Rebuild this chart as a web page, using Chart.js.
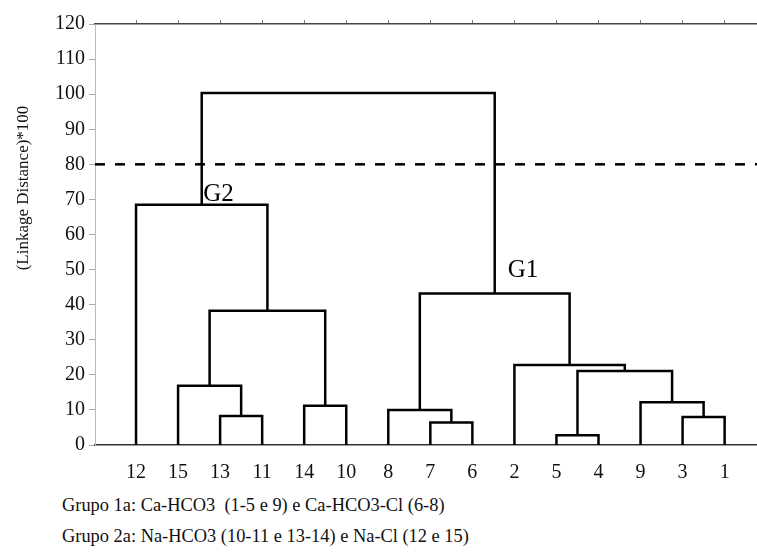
<!DOCTYPE html>
<html>
<head>
<meta charset="utf-8">
<script src="https://cdn.jsdelivr.net/npm/chart.js@4.4.0/dist/chart.umd.min.js"></script>
<style>
  html, body { margin: 0; padding: 0; background: #fff; }
  #wrap { position: relative; width: 757px; height: 559px; overflow: hidden; }
  #box { position: absolute; left: 0; top: 0; width: 757px; height: 490px; }
  .nota { position: absolute; left: 62px; font-size: 18.4px; font-family: "Liberation Serif", "Times New Roman", Tinos, "DejaVu Serif", "Noto Serif", serif; color: #111; white-space: pre; }
</style>
</head>
<body>
<div id="wrap">
  <div id="box"><canvas id="myChart"></canvas></div>
  <div class="nota" style="top:495px">Grupo 1a: Ca-HCO3  (1-5 e 9) e Ca-HCO3-Cl (6-8)</div>
  <div class="nota" style="top:526px">Grupo 2a: Na-HCO3 (10-11 e 13-14) e Na-Cl (12 e 15)</div>
</div>
<script>
// folhas do dendrograma, na ordem do eixo x
const leafLabels = ['12', '15', '13', '11', '14', '10', '8', '7', '6', '2', '5', '4', '9', '3', '1'];

// uniões: nós 0-14 = folhas, 15+ = grupos formados em ordem
const mergeLeft   = [2, 1, 4, 16, 0, 7, 6, 10, 13, 12, 22, 9, 21, 19];
const mergeRight  = [3, 15, 5, 17, 18, 8, 20, 11, 14, 23, 24, 25, 26, 27];
const mergeHeight = [8.3, 16.9, 11.2, 38.3, 68.5, 6.4, 10.0, 2.8, 8.0, 12.2, 21.1, 22.8, 43.2, 100.3];

const yTicks = [0, 10, 20, 30, 40, 50, 60, 70, 80, 90, 100, 110, 120];
const cutHeight = 80;

const groupLabels = ['G2', 'G1'];
const groupX = [1.60, 8.84];
const groupY = [69.5, 48];

// posição (x, altura) de cada nó
var nodeX = leafLabels.map(function(l, i) { return i; });
var nodeH = leafLabels.map(function() { return 0; });
var linkSets = [];
mergeLeft.forEach(function(a, k) {
  var b = mergeRight[k], h = mergeHeight[k];
  linkSets.push({
    data: [
      { x: nodeX[a], y: nodeH[a] },
      { x: nodeX[a], y: h },
      { x: nodeX[b], y: h },
      { x: nodeX[b], y: nodeH[b] }
    ],
    borderColor: '#000',
    borderWidth: 2.5,
    pointRadius: 0,
    showLine: true,
    fill: false,
    tension: 0
  });
  nodeX.push((nodeX[a] + nodeX[b]) / 2);
  nodeH.push(h);
});

var xMin = -0.976, xMax = 14.77;

linkSets.push({
  data: [{ x: xMin, y: cutHeight }, { x: xMax, y: cutHeight }],
  borderColor: '#000',
  borderWidth: 2.5,
  borderDash: [10, 10],
  pointRadius: 0,
  showLine: true,
  fill: false
});

var serif = '"Liberation Serif", "Times New Roman", Tinos, "DejaVu Serif", "Noto Serif", serif';

var textos = {
  id: 'textos',
  afterDatasetsDraw: function(chart) {
    var c = chart.ctx, xs = chart.scales.x, ys = chart.scales.y;
    c.save();
    c.fillStyle = '#000';
    c.font = '25px ' + serif;
    c.textAlign = 'left';
    c.textBaseline = 'alphabetic';
    groupLabels.forEach(function(t, i) {
      c.fillText(t, xs.getPixelForValue(groupX[i]), ys.getPixelForValue(groupY[i]));
    });
    // título do eixo y
    c.font = '17px ' + serif;
    c.translate(24, 188);
    c.rotate(-Math.PI / 2);
    c.textAlign = 'center';
    c.textBaseline = 'middle';
    c.fillStyle = '#111';
    c.fillText('(Linkage Distance)*100', 0, 0);
    c.restore();
  }
};

var ctx = document.getElementById('myChart').getContext('2d');

var currentChart = new Chart(ctx, {
  type: 'scatter',
  data: { datasets: linkSets },
  options: {
    responsive: true,
    maintainAspectRatio: false,
    animation: false,
    layout: { padding: { top: 20, left: 0, right: 0, bottom: 0 } },
    plugins: { legend: { display: false }, tooltip: { enabled: false } },
    scales: {
      x: {
        type: 'linear',
        position: 'bottom',
        min: xMin,
        max: xMax,
        afterBuildTicks: function(scale) {
          scale.ticks = leafLabels.map(function(l, i) { return { value: i }; });
        },
        afterFit: function(scale) { scale.height = 45; },
        ticks: {
          autoSkip: false,
          maxRotation: 0,
          padding: 8,
          color: '#111',
          font: { family: serif, size: 20 },
          callback: function(v) { return leafLabels[v]; }
        },
        grid: { display: false },
        border: { display: true, color: '#333', width: 1.5 }
      },
      xTop: {
        type: 'linear',
        position: 'top',
        min: xMin,
        max: xMax,
        afterBuildTicks: function(scale) {
          scale.ticks = leafLabels.map(function(l, i) { return { value: i }; });
        },
        afterFit: function(scale) { scale.height = 4; },
        ticks: { display: false },
        grid: { drawOnChartArea: false, drawTicks: true, tickLength: 4, color: '#777' },
        border: { display: true, color: '#444', width: 1.5 }
      },
      y: {
        min: 0,
        max: 120,
        afterBuildTicks: function(scale) {
          scale.ticks = yTicks.map(function(v) { return { value: v }; });
        },
        afterFit: function(scale) { scale.width = 95; },
        ticks: {
          padding: 4,
          color: '#111',
          font: { family: serif, size: 20 }
        },
        grid: { drawOnChartArea: false, drawTicks: true, tickLength: 6, color: '#aaa' },
        border: { display: true, color: '#bbb', width: 1, dash: [1, 3] }
      }
    }
  },
  plugins: [textos]
});
</script>
</body>
</html>
